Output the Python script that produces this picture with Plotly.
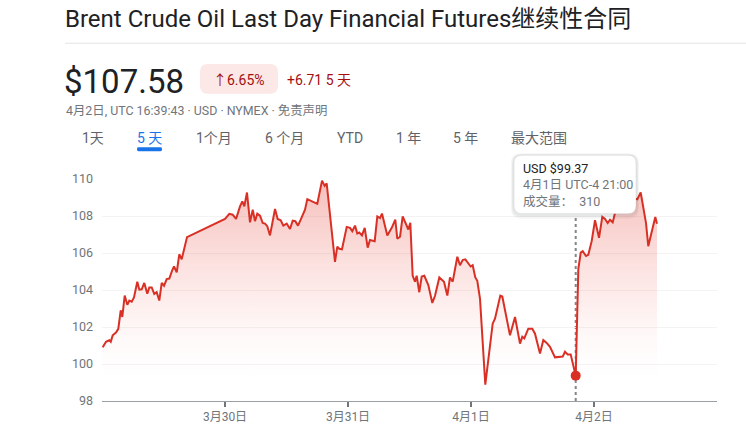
import plotly.graph_objects as go
import pandas as pd

# ---------------- data ----------------
START = "2022-03-29 00:00"
HOURS = [0.14, 0.78, 1.42, 1.70, 2.09, 2.73, 3.18, 3.65, 3.96, 4.43, 4.94, 5.33, 5.80, 6.24,
         6.89, 7.28, 7.75, 8.25, 8.84, 9.23, 9.70, 10.20, 10.67, 11.18, 11.65, 12.10, 12.62,
         13.13, 13.66, 14.05, 14.58, 15.08, 15.55, 16.06, 16.59,
         24.00, 24.84, 25.50, 26.15, 26.93, 27.38, 27.77, 28.29, 28.88, 29.41, 29.85, 30.30,
         30.83, 31.36, 31.80, 32.25, 32.78, 33.42, 33.76, 34.28, 34.87, 35.38, 36.04, 36.68,
         37.21, 37.72, 38.24, 38.77, 39.28, 39.61, 40.06, 40.92, 42.01, 42.93, 43.45, 43.84,
         44.62, 45.46, 45.91, 46.30, 46.83, 47.75, 48.39, 48.84, 49.37, 49.81, 50.20, 50.73,
         51.26, 51.84, 52.29, 53.21, 53.72, 54.24, 54.63, 55.67, 56.53, 57.23, 57.62, 58.15,
         58.67, 59.32, 59.77, 60.16, 60.62, 61.07, 61.40, 61.91, 62.38, 62.89, 63.67, 64.45,
         64.98, 65.82, 66.73, 67.38, 67.90, 68.43, 69.33, 69.85, 70.38, 70.89, 71.94, 72.33,
         72.84, 73.23, 73.76, 74.79, 75.38, 76.23, 76.68, 77.72, 78.11, 79.61, 80.59, 81.56,
         82.01, 82.40, 83.18, 83.96, 84.49, 85.46, 86.11, 86.77, 87.41, 88.39, 89.89, 90.34,
         90.87, 91.45, 92.43, 92.94, 93.41, 93.80, 94.44, 94.89, 95.55, 96.20, 96.98, 97.62,
         98.15, 98.67, 99.12, 99.65, 100.10, 100.68, 101.27, 101.85, 102.44, 103.02, 103.80,
         104.45, 105.11, 105.62, 106.15, 106.59, 107.06, 107.57, 107.96, 108.29]
PRICE = [100.90, 101.20, 101.28, 101.20, 101.55, 101.70, 101.90, 102.90, 102.54, 103.70, 103.20,
         103.43, 103.37, 103.60, 104.45, 104.02, 104.04, 104.38, 103.80, 104.14, 104.14, 103.79,
         103.88, 103.43, 104.38, 104.23, 104.59, 104.62, 105.03, 105.27, 104.95, 105.93, 105.66,
         106.20, 106.86,
         107.84, 108.12, 108.07, 107.84, 108.52, 108.79, 108.52, 109.27, 107.66, 108.34, 107.72,
         108.13, 108.02, 107.62, 107.59, 107.45, 106.95, 107.98, 108.38, 107.84, 107.77, 107.48,
         107.59, 107.30, 107.75, 107.72, 107.48, 107.80, 108.20, 108.34, 108.91, 108.79, 108.66,
         109.91, 109.63, 109.77, 107.80, 105.52, 106.34, 106.23, 106.20, 107.41, 107.36, 107.18,
         107.48, 107.05, 107.11, 106.95, 107.36, 106.29, 106.70, 106.64, 107.98, 107.89, 108.13,
         106.95, 107.36, 107.80, 106.77, 106.88, 107.98, 107.54, 107.27, 107.63, 104.77, 104.45,
         104.77, 103.88, 104.73, 104.77, 104.27, 103.30, 103.69, 104.68, 104.45, 103.70, 104.68,
         104.45, 105.80, 105.34, 105.62, 105.66, 105.27, 105.34, 104.68, 104.50, 103.52, 98.88,
         100.30, 102.18, 102.45, 103.70, 103.65, 101.55, 102.54, 101.10, 101.47, 101.38, 101.91,
         101.91, 101.64, 100.57, 101.29, 101.14, 100.93, 100.36, 100.40, 100.66, 100.52, 100.52,
         99.37, 105.13, 106.02, 106.10, 105.84, 105.90, 106.64, 107.77, 106.82, 107.95, 107.84,
         107.62, 107.80, 107.66, 108.16, 108.50, 108.30, 108.70, 108.50, 108.90, 108.97, 108.90,
         109.27, 108.34, 107.62, 106.37, 106.91, 107.62, 107.95, 107.58]

X_TICKS = ["2022-03-30", "2022-03-31", "2022-04-01", "2022-04-02"]
X_TICK_LABELS = ["3月30日", "3月31日", "4月1日", "4月2日"]
X_RANGE = ["2022-03-29 00:00", "2022-04-03 00:00"]
Y_TICKS = [98, 100, 102, 104, 106, 108, 110]

TITLE = "Brent Crude Oil Last Day Financial Futures继续性合同"
PRICE_NOW = "$107.58"
CHANGE_PCT = "↑6.65%"
CHANGE_ABS = "+6.71 5 天"
SUBTITLE = "4月2日, UTC 16:39:43 · USD · NYMEX · 免责声明"
TABS = ["1天", "5 天", "1个月", "6 个月", "YTD", "1 年", "5 年", "最大范围"]
ACTIVE_TAB = 1
HOVER_PRICE = 99.37
HOVER_TIME_LABEL = "4月1日 UTC-4 21:00"
HOVER_VOLUME = 310

# ---------------- layout helpers (screen pixel coordinates) ----------------
W, H = 746, 436
PL, PR, PT, PB = 102, 717, 179, 403   # plot area in screen pixels
PW, PH = PR - PL, PB - PT
FONT = "Roboto, 'Noto Sans CJK SC', sans-serif"
RED = "#d93025"


def px(x):
    return (x - PL) / PW


def py(y):
    return (PB - y) / PH


def rrect(x0, y0, x1, y1, r):
    pts = [
        f"M {px(x0 + r)},{py(y0)}",
        f"L {px(x1 - r)},{py(y0)}",
        f"Q {px(x1)},{py(y0)} {px(x1)},{py(y0 + r)}",
        f"L {px(x1)},{py(y1 - r)}",
        f"Q {px(x1)},{py(y1)} {px(x1 - r)},{py(y1)}",
        f"L {px(x0 + r)},{py(y1)}",
        f"Q {px(x0)},{py(y1)} {px(x0)},{py(y1 - r)}",
        f"L {px(x0)},{py(y0 + r)}",
        f"Q {px(x0)},{py(y0)} {px(x0 + r)},{py(y0)}",
        "Z",
    ]
    return " ".join(pts)


times = pd.Timestamp(START) + pd.to_timedelta(HOURS, unit="h")
hi = PRICE.index(HOVER_PRICE)

fig = go.Figure()
fig.add_trace(go.Scatter(
    x=times, y=PRICE, mode="lines",
    line=dict(color=RED, width=2),
    fill="tozeroy",
    fillgradient=dict(
        type="vertical", start=98.5, stop=110,
        colorscale=[[0, "rgba(255,255,255,0)"],
                    [0.35, "rgba(240,110,100,0.08)"],
                    [1, "rgba(226,70,60,0.35)"]],
    ),
    hoverinfo="skip", showlegend=False,
))
fig.add_trace(go.Scatter(
    x=[times[hi]], y=[PRICE[hi]], mode="markers",
    marker=dict(color=RED, size=10),
    hoverinfo="skip", showlegend=False,
))

shapes = []
# divider under title
shapes.append(dict(type="line", xref="paper", yref="paper",
                   x0=px(65), x1=px(746), y0=py(42), y1=py(42),
                   line=dict(color="#e3e4e6", width=1)))
# change pill
shapes.append(dict(type="path", xref="paper", yref="paper",
                   path=rrect(200, 63, 278, 93, 8),
                   fillcolor="#fce8e6", line=dict(width=0)))
# tab underline
shapes.append(dict(type="path", xref="paper", yref="paper",
                   path=rrect(137, 147, 162, 151, 1.5),
                   fillcolor="#1a73e8", line=dict(width=0)))
# hover dotted line
shapes.append(dict(type="line", xref="x", yref="paper",
                   x0=times[hi], x1=times[hi], y0=0, y1=py(216),
                   line=dict(color="#80868b", width=2, dash="dot"),
                   layer="below"))
# tooltip shadow + box
shapes.append(dict(type="path", xref="paper", yref="paper",
                   path=rrect(511, 153, 639, 219, 10),
                   fillcolor="rgba(60,64,67,0.05)", line=dict(width=0)))
shapes.append(dict(type="path", xref="paper", yref="paper",
                   path=rrect(512, 154, 638, 217, 9),
                   fillcolor="rgba(60,64,67,0.07)", line=dict(width=0)))
shapes.append(dict(type="path", xref="paper", yref="paper",
                   path=rrect(514, 155, 636, 214, 8),
                   fillcolor="white", line=dict(color="rgba(60,64,67,0.10)", width=1)))

ann = []


def text(x, y, s, size, color, xanchor="left", **kw):
    ann.append(dict(xref="paper", yref="paper", x=px(x), y=py(y), text=s,
                    showarrow=False, xanchor=xanchor, yanchor="middle",
                    font=dict(family=FONT, size=size, color=color), **kw))


text(63, 18, TITLE, 24, "#202124")
text(62, 81, PRICE_NOW, 33, "#202124")
text(239, 79, CHANGE_PCT, 14, "#a50e0e", xanchor="center")
text(285, 79, CHANGE_ABS, 14, "#a50e0e")
text(64, 110, SUBTITLE, 12.4, "#70757a")

TAB_X = [93, 149.5, 213.5, 284, 350, 408.5, 465.5, 538.5]
for i, (tx, lab) in enumerate(zip(TAB_X, TABS)):
    text(tx, 138, lab, 14, "#1a73e8" if i == ACTIVE_TAB else "#5f6368", xanchor="center")

tip = (f"<span style='color:#202124'>USD ${PRICE[hi]:.2f}</span><br>"
       f"{HOVER_TIME_LABEL}<br>成交量：  {HOVER_VOLUME}")
text(521, 185, tip, 12.5, "#70757a", align="left")

fig.update_layout(
    width=W, height=H, autosize=False,
    margin=dict(l=PL, r=W - PR, t=PT, b=H - PB, pad=0),
    paper_bgcolor="white", plot_bgcolor="white",
    font=dict(family=FONT, size=12, color="#70757a"),
    hovermode=False,
    shapes=shapes, annotations=ann,
    xaxis=dict(type="date", range=X_RANGE, tickvals=X_TICKS, ticktext=X_TICK_LABELS,
               showgrid=False, zeroline=False,
               showline=True, linecolor="#9aa0a6", linewidth=1,
               ticks="outside", ticklen=5, tickwidth=2, tickcolor="#70757a",
               tickfont=dict(family=FONT, size=12, color="#70757a"), fixedrange=True),
    yaxis=dict(range=[98, 110], tickvals=Y_TICKS, showgrid=True, gridcolor="#f3f3f3",
               zeroline=False, showline=False, ticks="", ticklabelstandoff=8,
               tickfont=dict(family=FONT, size=12.5, color="#70757a"), fixedrange=True),
)

# remove the browser's default page margin so the 746x436 figure fills the window
fig.write_html("out.html",
               config={"displayModeBar": False, "staticPlot": True},
               post_script="document.body.style.margin='0';document.body.style.overflow='hidden';")
